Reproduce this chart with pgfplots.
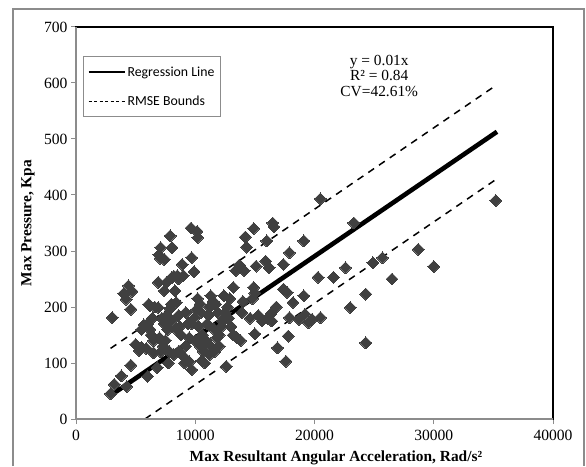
\documentclass[border=0pt]{standalone}
\usepackage{pgfplots}
\pgfplotsset{compat=1.18}
\usepackage{fontspec}
\setmainfont{Liberation Serif}
\newfontfamily\legfont{Carlito}
\definecolor{mk}{HTML}{404040}
\definecolor{frm}{HTML}{8C8C8C}
\begin{document}
\begin{tikzpicture}[x=1pt,y=1pt]
\useasboundingbox (0,0) rectangle (586,466);
\draw[frm, line width=2pt] (13,0) -- (13,456.5) -- (584,456.5) -- (584,0);
\begin{axis}[
  at={(76pt,47pt)}, anchor=south west,
  scale only axis, width=477pt, height=392pt,
  xmin=0, xmax=40000, ymin=0, ymax=700,
  xtick={0,10000,20000,30000,40000},
  ytick={0,100,200,300,400,500,600,700},
  scaled x ticks=false,
  xticklabel style={/pgf/number format/1000 sep={}, yshift=-3pt},
  /pgf/number format/assume math mode=true,
  tick label style={font=\fontsize{15.6}{17}\selectfont, text=black},
  tick pos=left, tick align=outside, major tick length=5pt,
  tick style={frm, line width=1pt},
  axis line style={black, line width=1.3pt},
  xlabel={\textbf{Max Resultant Angular Acceleration, Rad/s²}},
  ylabel={\textbf{Max Pressure, Kpa}},
  label style={font=\fontsize{15.4}{17}\selectfont},
  xlabel style={at={(axis description cs:0.545,-0.0995)}, anchor=center},
  ylabel style={at={(axis description cs:-0.1006,0.5)}, anchor=center},
  legend style={at={(0.0147,0.926)}, anchor=north west, draw=frm, line width=1.2pt, fill=white,
    font=\legfont\fontsize{13.8}{16}\selectfont, row sep=14pt, inner xsep=4pt, inner ysep=8pt},
  legend cell align=left,
  legend image code/.code={\draw[#1] (0pt,0pt) -- (36pt,0pt);},
]
\addplot[only marks, mark=square*, mark size=4.2pt, mark options={rotate=45, fill=mk, draw=mk, line width=0pt}, forget plot] table {
3040 181
2900 45
3200 62
3800 77
4250 58
4600 96
4000 224
4400 238
4700 228
4200 214
4600 196
5000 133
5300 122
5500 128
5700 168
5900 126
6100 205
6000 76
6200 160
6300 150
6500 118
6600 200
6800 92
6500 140
6200 202
6900 199
7100 306
6950 293
7050 287
7400 285
7900 327
8050 306
6900 244
7400 229
7600 244
8050 253
8500 256
8300 229
9000 256
8900 276
9650 341
9700 288
9900 263
10200 324
10150 335
8400 208
7900 197
8000 205
8600 185
7400 170
7700 160
7500 140
7300 130
7100 120
7000 145
7800 121
7750 100
8200 115
8700 165
8800 150
9000 112
9500 102
9700 88
9200 130
9500 145
9700 170
9900 180
10100 195
10200 215
10400 205
10500 190
10300 165
10600 150
10550 104
10700 120
10900 140
11000 170
11100 185
11200 200
11300 220
11500 210
11700 205
11900 190
11600 160
11800 145
11400 128
11200 115
12000 150
12200 165
12300 175
12400 220
12600 94
12800 180
13000 165
13200 235
13400 265
13200 150
13500 145
13800 140
13900 190
14000 210
14100 265
13700 275
14200 325
14300 307
14900 340
15100 273
14900 235
15000 225
14800 215
15000 152
14600 180
15300 185
15600 175
15900 282
16000 318
16200 270
16500 350
16600 343
16100 180
16400 175
16800 200
16350 188
16900 127
17400 276
17900 297
17600 103
17800 148
17900 181
17700 226
17400 232
18200 208
19100 318
19100 220
18700 178
19200 187
19500 172
19800 178
20500 181
20500 393
20300 253
21600 253
22600 270
23000 199
23300 350
24300 223
24300 136
24900 279
25700 288
26500 250
28700 303
30000 272
35200 390
8200 255
8600 250
5500 160
6000 170
6400 180
7200 180
7600 185
8000 175
8400 160
9200 190
9400 170
8600 120
9100 100
10000 140
10400 130
10800 100
11600 120
12000 130
12700 200
12900 215
12500 190
};
\addplot[black, line width=4.6pt, forget plot] coordinates {(2900,42.1) (35300,512.9)};
\addplot[black, line width=1.5pt, dash pattern=on 7pt off 6pt, forget plot] coordinates {(2900,126.1) (35200,595.5)};
\addplot[black, line width=1.5pt, dash pattern=on 7pt off 6pt, forget plot] coordinates {(5780,0) (35200,427.5)};
\addlegendimage{black, line width=2pt}
\addlegendentry{Regression Line}
\addlegendimage{black, line width=0.9pt, dash pattern=on 3pt off 2.5pt}
\addlegendentry{RMSE Bounds}
\node[font=\fontsize{15.4}{17}\selectfont, align=center] at (axis cs:25430,613) {y = 0.01x\\[-1.5pt]R² = 0.84\\[-1.5pt]CV=42.61\%};
\end{axis}
\draw[frm, line width=2pt] (76,439) -- (76,47) -- (553,47);
\end{tikzpicture}
\end{document}
